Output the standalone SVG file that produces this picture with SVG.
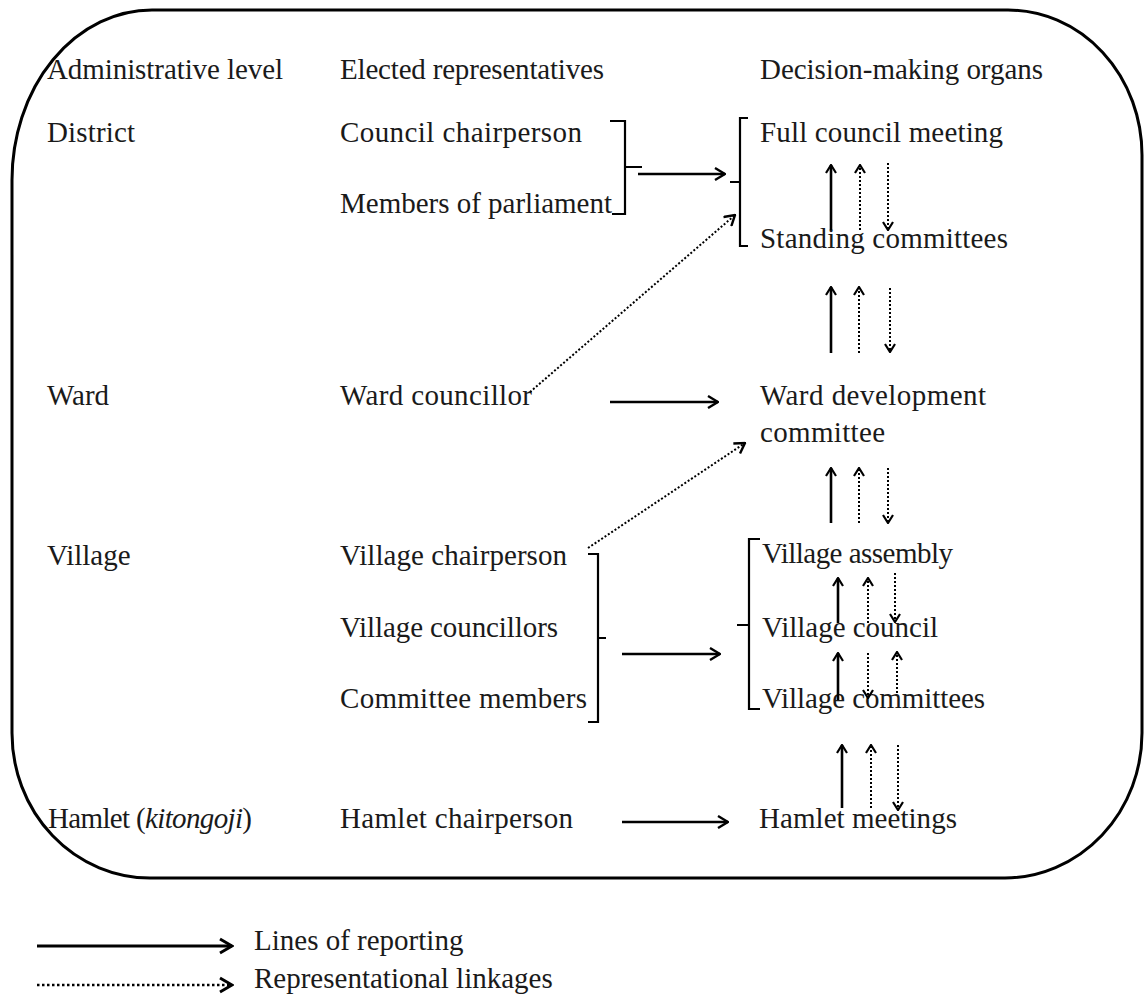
<svg xmlns="http://www.w3.org/2000/svg" width="1144" height="995" viewBox="0 0 1144 995">
<defs>
<style>
text{font-family:"Liberation Serif","Times New Roman",serif;font-size:29px;fill:#1a1a1a}
.s{stroke:#000;stroke-width:2.6;fill:none}
.d{stroke:#000;stroke-width:2;stroke-dasharray:2 2;fill:none}
.br{stroke:#000;stroke-width:2.2;fill:none}
.ah{marker-end:url(#ah)}
.av{marker-end:url(#av)}
.al{marker-end:url(#al)}
</style>
<marker id="ah" markerUnits="userSpaceOnUse" viewBox="0 0 12 14" refX="11" refY="7" markerWidth="12" markerHeight="14" orient="auto"><path d="M1,1 L11,7 L1,13" fill="none" stroke="#000" stroke-width="2.4"/></marker>
<marker id="av" markerUnits="userSpaceOnUse" viewBox="0 0 10 12" refX="9" refY="6" markerWidth="10" markerHeight="12" orient="auto"><path d="M1,1 L9,6 L1,11" fill="none" stroke="#000" stroke-width="2.2"/></marker>
<marker id="al" markerUnits="userSpaceOnUse" viewBox="0 0 16 18" refX="14" refY="9" markerWidth="16" markerHeight="18" orient="auto"><path d="M2,2 L14,9 L2,16" fill="none" stroke="#000" stroke-width="3"/></marker>
</defs>
<rect width="1144" height="995" fill="#fff"/>
<path id="frame" d="M152,10 H1008 A134,145 0 0 1 1142,155 V733 A138,145 0 0 1 1005,878 H150 A138,145 0 0 1 12,733 V180 A140,170 0 0 1 152,10 Z" fill="none" stroke="#000" stroke-width="3"/>

<g id="headers">
<text x="47" y="79" textLength="236">Administrative level</text>
<text x="340" y="79" textLength="264">Elected representatives</text>
<text x="760" y="79" textLength="283">Decision-making organs</text>
</g>

<g id="level-district"><text x="47" y="142" textLength="88">District</text></g>
<g id="level-ward"><text x="47" y="405">Ward</text></g>
<g id="level-village"><text x="47" y="565">Village</text></g>
<g id="level-hamlet"><text x="48" y="828" textLength="204">Hamlet (<tspan font-style="italic">kitongoji</tspan>)</text></g>

<g id="rep-district">
<text x="340" y="142" textLength="242">Council chairperson</text>
<text x="340" y="213" textLength="272">Members of parliament</text>
<path class="br" d="M610,121 H625 V214 H612 M625,167 H642"/>
</g>
<g id="rep-ward"><text x="340" y="405" textLength="192">Ward councillor</text></g>
<g id="rep-village">
<text x="340" y="565" textLength="227">Village chairperson</text>
<text x="340" y="637" textLength="218">Village councillors</text>
<text x="340" y="708" textLength="247">Committee members</text>
<path class="br" d="M588,554 H598 V722 H588 M598,638 H606"/>
</g>
<g id="rep-hamlet"><text x="340" y="828" textLength="233">Hamlet chairperson</text></g>

<g id="org-district">
<text x="760" y="142" textLength="243">Full council meeting</text>
<text x="760" y="248" textLength="248">Standing committees</text>
<path class="br" d="M748,118 H740 V246 H748 M740,182 H730"/>
</g>
<g id="org-ward">
<text x="760" y="405" textLength="226">Ward development</text>
<text x="760" y="442" textLength="125">committee</text>
</g>
<g id="org-village">
<text x="762" y="563" textLength="191">Village assembly</text>
<text x="762" y="637" textLength="176">Village council</text>
<text x="762" y="708" textLength="223">Village committees</text>
<path class="br" d="M760,539 H749 V709 H760 M749,625 H737"/>
</g>
<g id="org-hamlet"><text x="759" y="828" textLength="198">Hamlet meetings</text></g>

<g id="connectors">
<path class="s ah" d="M638,174 H725"/>
<path class="s ah" d="M610,402 H718"/>
<path class="s ah" d="M622,654 H720"/>
<path class="s ah" d="M622,822 H728"/>
<path class="d ah" d="M530,392 L735,215"/>
<path class="d ah" d="M588,548 L745,443"/>

<path class="s av" d="M831,230 V165"/>
<path class="d av" d="M860,230 V165"/>
<path class="d av" d="M888,163 V230"/>

<path class="s av" d="M831,353 V287"/>
<path class="d av" d="M859,353 V287"/>
<path class="d av" d="M890,288 V352"/>

<path class="s av" d="M831,523 V468"/>
<path class="d av" d="M859,523 V468"/>
<path class="d av" d="M888,468 V523"/>

<path class="s av" d="M838,623 V578"/>
<path class="d av" d="M868,623 V578"/>
<path class="d av" d="M895,573 V622"/>

<path class="s av" d="M838,700 V653"/>
<path class="d av" d="M868,653 V698"/>
<path class="d av" d="M897,693 V652"/>

<path class="s av" d="M842,808 V745"/>
<path class="d av" d="M871,808 V745"/>
<path class="d av" d="M898,745 V810"/>
</g>

<g id="legend">
<path stroke="#000" stroke-width="3.2" fill="none" class="al" d="M37,946 H232"/>
<path stroke="#000" stroke-width="2.4" stroke-dasharray="2.5 2.5" fill="none" class="al" d="M37,985 H232"/>
<text x="254" y="950">Lines of reporting</text>
<text x="254" y="988">Representational linkages</text>
</g>
</svg>
